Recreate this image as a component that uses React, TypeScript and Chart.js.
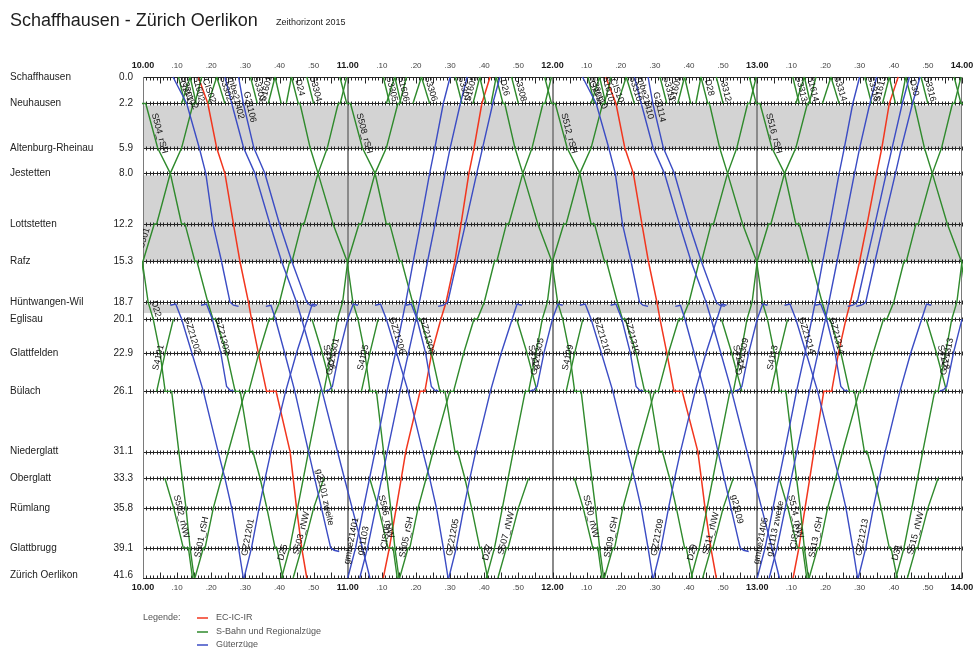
import React, { useEffect, useRef } from "react";
import { Chart, registerables } from "chart.js";
Chart.register(...registerables);

// ---------- axes / stations ----------
const stationNames = ["Schaffhausen", "Neuhausen", "Altenburg-Rheinau", "Jestetten", "Lottstetten", "Rafz", "Hüntwangen-Wil", "Eglisau", "Glattfelden", "Bülach", "Niederglatt", "Oberglatt", "Rümlang", "Glattbrugg", "Zürich Oerlikon"];
const stationKm = [0, 2.2, 5.9, 8.0, 12.2, 15.3, 18.7, 20.1, 22.9, 26.1, 31.1, 33.3, 35.8, 39.1, 41.6];
const kmLabels = ["0.0", "2.2", "5.9", "8.0", "12.2", "15.3", "18.7", "20.1", "22.9", "26.1", "31.1", "33.3", "35.8", "39.1", "41.6"];
const grayBands = [[2.2, 5.9], [8.0, 15.3], [18.7, 19.6]];
const hourLines = [60, 120, 180];
const timeTickLabels = ["10.00", ".10", ".20", ".30", ".40", ".50", "11.00", ".10", ".20", ".30", ".40", ".50", "12.00", ".10", ".20", ".30", ".40", ".50", "13.00", ".10", ".20", ".30", ".40", ".50", "14.00"];

// ---------- trains: [minutes after 10.00, km] ----------
// EC-IC-IR
const redS10 = [[16.2, 0], [19, 2.2], [21.6, 5.9], [24, 8], [26.5, 12.2], [28.4, 15.3], [30.9, 18.7], [31.8, 20.1], [33.8, 22.9], [36.2, 26.1], [39, 26.1], [43.1, 31.1], [44, 33.3], [45, 35.8], [46.5, 39.1], [48, 41.6]];
const redS12 = [[135.6, 0], [138.6, 2.2], [141.2, 5.9], [143.7, 8], [146.2, 12.2], [148.1, 15.3], [150.6, 18.7], [151.5, 20.1], [153.5, 22.9], [155.6, 26.1], [158, 26.1], [162.6, 31.1], [163.6, 33.3], [164.7, 35.8], [166.4, 39.1], [168, 41.6]];
const redN11 = [[70.4, 41.6], [72.2, 39.1], [74.2, 35.8], [75.7, 33.3], [77, 31.1], [81.2, 26.1], [82.6, 26.1], [84.6, 22.9], [87.3, 20.1], [88.8, 18.7], [91.4, 15.3], [93.2, 12.2], [95.5, 8], [97, 5.9], [99.3, 2.2], [101.7, 0]];
const redN13 = [[190.5, 41.6], [192.2, 39.1], [194, 35.8], [195.4, 33.3], [196.6, 31.1], [199.5, 26.1], [201.8, 26.1], [203.8, 22.9], [206, 20.1], [207.3, 18.7], [210, 15.3], [212.2, 12.2], [215, 8], [216.5, 5.9], [218.7, 2.2], [221.3, 0]];

// S-Bahn southbound Schaffhausen - Oerlikon
const saS10 = [[-2.3, 0], [-0.3, 2.2], [0.8, 2.2], [4.3, 5.9], [8, 8], [11.3, 12.2], [12.3, 12.2], [15.2, 15.3], [15.8, 15.3], [19, 18.7], [20.5, 20.1], [21.3, 20.1], [24.5, 22.9], [27, 26.1], [28.5, 26.1], [31.4, 31.1], [32.2, 31.1], [34.3, 33.3], [36.3, 35.8], [38.7, 39.1], [39.2, 39.1], [41, 41.6]];
const saS11 = [[57.7, 0], [59.7, 2.2], [60.8, 2.2], [64.3, 5.9], [68, 8], [71.3, 12.2], [72.3, 12.2], [75.2, 15.3], [75.8, 15.3], [79, 18.7], [80.5, 20.1], [81.3, 20.1], [84.5, 22.9], [87, 26.1], [88.5, 26.1], [91.4, 31.1], [92.2, 31.1], [94.3, 33.3], [96.3, 35.8], [98.7, 39.1], [99.2, 39.1], [101, 41.6]];
const saS12 = [[117.7, 0], [119.7, 2.2], [120.8, 2.2], [124.3, 5.9], [128, 8], [131.3, 12.2], [132.3, 12.2], [135.2, 15.3], [135.8, 15.3], [139, 18.7], [140.5, 20.1], [141.3, 20.1], [144.5, 22.9], [147, 26.1], [148.5, 26.1], [151.4, 31.1], [152.2, 31.1], [154.3, 33.3], [156.3, 35.8], [158.7, 39.1], [159.2, 39.1], [161, 41.6]];
const saS13 = [[177.7, 0], [179.7, 2.2], [180.8, 2.2], [184.3, 5.9], [188, 8], [191.3, 12.2], [192.3, 12.2], [195.2, 15.3], [195.8, 15.3], [199, 18.7], [200.5, 20.1], [201.3, 20.1], [204.5, 22.9], [207, 26.1], [208.5, 26.1], [211.4, 31.1], [212.2, 31.1], [214.3, 33.3], [216.3, 35.8], [218.7, 39.1], [219.2, 39.1], [221, 41.6]];
const saS14 = [[237.7, 0], [239.7, 2.2], [240.8, 2.2], [244.3, 5.9]];

// S-Bahn northbound Oerlikon - Schaffhausen
const snN10 = [[15.2, 41.6], [17.7, 39.1], [18.2, 39.1], [20.6, 35.8], [23, 33.3], [25, 31.1], [29.9, 26.1], [31, 26.1], [34, 22.9], [37, 20.1], [38, 20.1], [40, 18.7], [43, 15.3], [43.7, 15.3], [46.5, 12.2], [47.2, 12.2], [51.3, 8], [54, 5.9], [57.2, 2.2], [57.8, 2.2], [59.7, 0]];
const snN11 = [[75.2, 41.6], [77.7, 39.1], [78.2, 39.1], [80.6, 35.8], [83, 33.3], [85, 31.1], [89.9, 26.1], [91, 26.1], [94, 22.9], [97, 20.1], [98, 20.1], [100, 18.7], [103, 15.3], [103.7, 15.3], [106.5, 12.2], [107.2, 12.2], [111.3, 8], [114, 5.9], [117.2, 2.2], [117.8, 2.2], [119.7, 0]];
const snN12 = [[135.2, 41.6], [137.7, 39.1], [138.2, 39.1], [140.6, 35.8], [143, 33.3], [145, 31.1], [149.9, 26.1], [151, 26.1], [154, 22.9], [157, 20.1], [158, 20.1], [160, 18.7], [163, 15.3], [163.7, 15.3], [166.5, 12.2], [167.2, 12.2], [171.3, 8], [174, 5.9], [177.2, 2.2], [177.8, 2.2], [179.7, 0]];
const snN13 = [[195.2, 41.6], [197.7, 39.1], [198.2, 39.1], [200.6, 35.8], [203, 33.3], [205, 31.1], [209.9, 26.1], [211, 26.1], [214, 22.9], [217, 20.1], [218, 20.1], [220, 18.7], [223, 15.3], [223.7, 15.3], [226.5, 12.2], [227.2, 12.2], [231.3, 8], [234, 5.9], [237.2, 2.2], [237.8, 2.2], [239.7, 0]];

// D trains northbound
const dN09 = [[-7, 26.1], [-4.8, 22.9], [-3, 20.1], [-1.5, 18.7], [0, 15.3], [3.3, 12.2], [4, 12.2], [8, 8], [11.3, 5.9], [14.7, 2.2], [15.2, 2.2], [17.2, 0]];
const dN10 = [[40.6, 41.6], [43, 39.1], [45.3, 35.8], [47, 33.3], [48.5, 31.1], [52, 26.1], [53, 26.1], [55.2, 22.9], [57, 20.1], [58.5, 18.7], [60, 15.3], [63.3, 12.2], [64, 12.2], [68, 8], [71.3, 5.9], [74.7, 2.2], [75.2, 2.2], [77.2, 0]];
const dN11 = [[100.6, 41.6], [103, 39.1], [105.3, 35.8], [107, 33.3], [108.5, 31.1], [112, 26.1], [113, 26.1], [115.2, 22.9], [117, 20.1], [118.5, 18.7], [120, 15.3], [123.3, 12.2], [124, 12.2], [128, 8], [131.3, 5.9], [134.7, 2.2], [135.2, 2.2], [137.2, 0]];
const dN12 = [[160.6, 41.6], [163, 39.1], [165.3, 35.8], [167, 33.3], [168.5, 31.1], [172, 26.1], [173, 26.1], [175.2, 22.9], [177, 20.1], [178.5, 18.7], [180, 15.3], [183.3, 12.2], [184, 12.2], [188, 8], [191.3, 5.9], [194.7, 2.2], [195.2, 2.2], [197.2, 0]];
const dN13 = [[220.6, 41.6], [223, 39.1], [225.3, 35.8], [227, 33.3], [228.5, 31.1], [232, 26.1], [233, 26.1], [235.2, 22.9], [237, 20.1], [238.5, 18.7], [240, 15.3], [243.3, 12.2]];

// D trains southbound
const dS09 = [[-4.3, 12.2], [-0.2, 15.3], [1.5, 18.7], [3, 20.1], [5, 22.9], [6.5, 26.1], [8.4, 26.1], [10.5, 31.1], [11.5, 33.3], [12.6, 35.8], [13.8, 39.1], [15, 41.6]];
const dS10 = [[43.5, 0], [45.5, 2.2], [46, 2.2], [49, 5.9], [51.3, 8], [55.7, 12.2], [59.8, 15.3], [61.5, 18.7], [63, 20.1], [65, 22.9], [66.5, 26.1], [68.4, 26.1], [70.5, 31.1], [71.5, 33.3], [72.6, 35.8], [73.8, 39.1], [75, 41.6]];
const dS11 = [[103.5, 0], [105.5, 2.2], [106, 2.2], [109, 5.9], [111.3, 8], [115.7, 12.2], [119.8, 15.3], [121.5, 18.7], [123, 20.1], [125, 22.9], [126.5, 26.1], [128.4, 26.1], [130.5, 31.1], [131.5, 33.3], [132.6, 35.8], [133.8, 39.1], [135, 41.6]];
const dS12 = [[163.5, 0], [165.5, 2.2], [166, 2.2], [169, 5.9], [171.3, 8], [175.7, 12.2], [179.8, 15.3], [181.5, 18.7], [183, 20.1], [185, 22.9], [186.5, 26.1], [188.4, 26.1], [190.5, 31.1], [191.5, 33.3], [192.6, 35.8], [193.8, 39.1], [195, 41.6]];
const dS13 = [[223.5, 0], [225.5, 2.2], [226, 2.2], [229, 5.9], [231.3, 8], [235.7, 12.2], [239.8, 15.3], [241.5, 18.7]];

// S5 Niederweningen branch (Oberglatt - Oerlikon)
const nwS10 = [[6.4, 33.3], [9, 35.8], [11.8, 39.1], [13.3, 39.1], [14.5, 41.6]];
const nwS11 = [[66.4, 33.3], [69, 35.8], [71.8, 39.1], [73.3, 39.1], [74.5, 41.6]];
const nwS12 = [[126.4, 33.3], [129, 35.8], [131.8, 39.1], [133.3, 39.1], [134.5, 41.6]];
const nwS13 = [[186.4, 33.3], [189, 35.8], [191.8, 39.1], [193.3, 39.1], [194.5, 41.6]];
const nwN10 = [[44, 41.6], [46.5, 39.1], [47, 39.1], [50, 35.8], [53, 33.3]];
const nwN11 = [[104, 41.6], [106.5, 39.1], [107, 39.1], [110, 35.8], [113, 33.3]];
const nwN12 = [[164, 41.6], [166.5, 39.1], [167, 39.1], [170, 35.8], [173, 33.3]];
const nwN13 = [[224, 41.6], [226.5, 39.1], [227, 39.1], [230, 35.8], [233, 33.3]];

// S41 Bülach - Eglisau
const s41N10 = [[4, 26.1], [6.5, 22.9], [8.9, 20.1]];
const s41N11 = [[64, 26.1], [66.5, 22.9], [68.9, 20.1]];
const s41N12 = [[124, 26.1], [126.5, 22.9], [128.9, 20.1]];
const s41N13 = [[184, 26.1], [186.5, 22.9], [188.9, 20.1]];
const s41S10 = [[49.5, 20.1], [52.5, 22.9], [55.5, 26.1]];
const s41S11 = [[109.5, 20.1], [112.5, 22.9], [115.5, 26.1]];
const s41S12 = [[169.5, 20.1], [172.5, 22.9], [175.5, 26.1]];
const s41S13 = [[229.5, 20.1], [232.5, 22.9], [235.5, 26.1]];

// short runs Schaffhausen - Neuhausen: [t1, km1, t2, km2]
const top10 = [[10.4, 0, 12.3, 2.2], [11.3, 2.2, 13.8, 0], [13.8, 0, 15.6, 2.2], [19.1, 2.2, 21.6, 0], [21.6, 0, 24, 2.2], [31.5, 0, 33.5, 2.2], [36.7, 2.2, 38.7, 0], [38.7, 0, 40.5, 2.2], [42, 2.2, 43.5, 0], [48, 0, 50, 2.2]];
const top11 = [[70.4, 0, 72.3, 2.2], [71.3, 2.2, 73.8, 0], [73.8, 0, 75.6, 2.2], [79.1, 2.2, 81.6, 0], [81.6, 0, 84, 2.2], [91.5, 0, 93.5, 2.2], [96.7, 2.2, 98.7, 0], [98.7, 0, 100.5, 2.2], [102, 2.2, 103.5, 0], [108, 0, 110, 2.2]];
const top12 = [[130.4, 0, 132.3, 2.2], [131.3, 2.2, 133.8, 0], [133.8, 0, 135.6, 2.2], [139.1, 2.2, 141.6, 0], [141.6, 0, 144, 2.2], [151.5, 0, 153.5, 2.2], [156.7, 2.2, 158.7, 0], [158.7, 0, 160.5, 2.2], [162, 2.2, 163.5, 0], [168, 0, 170, 2.2]];
const top13 = [[190.4, 0, 192.3, 2.2], [191.3, 2.2, 193.8, 0], [193.8, 0, 195.6, 2.2], [199.1, 2.2, 201.6, 0], [201.6, 0, 204, 2.2], [211.5, 0, 213.5, 2.2], [216.7, 2.2, 218.7, 0], [218.7, 0, 220.5, 2.2], [222, 2.2, 223.5, 0], [228, 0, 230, 2.2]];

// Güterzüge
const bg1_10 = [[8.8, 0], [12.8, 2.2], [16.5, 5.9], [18.4, 8], [20.5, 12.2], [23, 15.3], [25.5, 18.7], [26.5, 18.95], [28, 19.05]];
const bg1_12 = [[128.8, 0], [132.8, 2.2], [136.5, 5.9], [138.4, 8], [140.5, 12.2], [143, 15.3], [145.5, 18.7], [146.5, 18.95], [148, 19.05]];
const bgx_10 = [[36, 19.05], [37.5, 18.95], [38.8, 20.1], [41.5, 22.9], [44.5, 26.1], [48.5, 31.1], [50.3, 33.3], [52.3, 35.8], [55, 39.1], [56, 39.3], [57.5, 39.4]];
const bgx_12 = [[156, 19.05], [157.5, 18.95], [158.8, 20.1], [161.5, 22.9], [164.5, 26.1], [168.5, 31.1], [170.3, 33.3], [172.3, 35.8], [175, 39.1], [176, 39.3], [177.5, 39.4]];
const bg2_10 = [[24, 0], [26, 2.2], [29.5, 5.9], [32.8, 8], [37.2, 12.2], [40.6, 15.3], [45, 18.7], [46.5, 20.1], [49.3, 22.9], [52.5, 26.1], [57, 31.1], [59, 33.3], [61.3, 35.8], [64.3, 39.1], [66.5, 41.6]];
const bg2_12 = [[144, 0], [146, 2.2], [149.5, 5.9], [152.8, 8], [157.2, 12.2], [160.6, 15.3], [165, 18.7], [166.5, 20.1], [169.3, 22.9], [172.5, 26.1], [177, 31.1], [179, 33.3], [181.3, 35.8], [184.3, 39.1], [186.5, 41.6]];
const bg3_10 = [[28, 0], [29.4, 2.2], [32.5, 5.9], [35.7, 8], [40, 12.2], [43.6, 15.3], [48, 18.7], [49, 18.95], [50.5, 19.05]];
const bg3_12 = [[148, 0], [149.4, 2.2], [152.5, 5.9], [155.7, 8], [160, 12.2], [163.6, 15.3], [168, 18.7], [169, 18.95], [170.5, 19.05]];
const bn1_11 = [[60, 41.6], [62.3, 39.1], [64.6, 35.8], [66.4, 33.3], [68, 31.1], [71.5, 26.1], [74, 22.9], [76, 20.1], [77, 18.7], [79.2, 15.3], [81.3, 12.2], [84, 8], [85.5, 5.9], [88, 2.2], [90, 0]];
const bn2_11 = [[63.5, 41.6], [65.8, 39.1], [68.2, 35.8], [70, 33.3], [71.6, 31.1], [75.3, 26.1], [77.8, 22.9], [80, 20.1], [81, 18.7], [83.4, 15.3], [85.6, 12.2], [88.5, 8], [90, 5.9], [93, 2.2], [95, 0]];
const bn3_11 = [[86.5, 19.05], [88, 18.95], [89.3, 18.7], [92, 15.3], [94.5, 12.2], [97.8, 8], [99.5, 5.9], [102.5, 2.2], [104.6, 0]];
const bn1_13 = [[180, 41.6], [182.3, 39.1], [184.6, 35.8], [186.4, 33.3], [188, 31.1], [191.5, 26.1], [194, 22.9], [196, 20.1], [197, 18.7], [199.2, 15.3], [201.3, 12.2], [204, 8], [205.5, 5.9], [208, 2.2], [210, 0]];
const bn2_13 = [[183.5, 41.6], [185.8, 39.1], [188.2, 35.8], [190, 33.3], [191.6, 31.1], [195.3, 26.1], [197.8, 22.9], [200, 20.1], [201, 18.7], [203.4, 15.3], [205.6, 12.2], [208.5, 8], [210, 5.9], [213, 2.2], [215, 0]];
const bn3_13 = [[206.5, 19.05], [208, 18.95], [209.3, 18.7], [212, 15.3], [214.5, 12.2], [217.8, 8], [219.5, 5.9], [222.5, 2.2], [224.6, 0]];
const bn4_13 = [[209, 19.05], [210.5, 18.95], [211.8, 18.7], [214.5, 15.3], [217, 12.2], [220.5, 8], [222.2, 5.9], [225.5, 2.2], [227.7, 0]];
const gzS10 = [[8, 18.95], [9.6, 18.85], [11.3, 20.1], [14.3, 22.9], [17.7, 26.1], [22, 31.1], [24, 33.3], [26, 35.8], [28, 39.1], [29.4, 41.6]];
const gzS11 = [[68, 18.95], [69.6, 18.85], [71.3, 20.1], [74.3, 22.9], [77.7, 26.1], [82, 31.1], [84, 33.3], [86, 35.8], [88, 39.1], [89.4, 41.6]];
const gzS12 = [[128, 18.95], [129.6, 18.85], [131.3, 20.1], [134.3, 22.9], [137.7, 26.1], [142, 31.1], [144, 33.3], [146, 35.8], [148, 39.1], [149.4, 41.6]];
const gzS13 = [[188, 18.95], [189.6, 18.85], [191.3, 20.1], [194.3, 22.9], [197.7, 26.1], [202, 31.1], [204, 33.3], [206, 35.8], [208, 39.1], [209.4, 41.6]];
const gz3S10 = [[17, 18.95], [18.6, 18.85], [20.3, 20.1], [22.8, 22.9], [24.5, 25.7], [25.5, 26.0], [26.5, 26.05]];
const gz3S11 = [[77, 18.95], [78.6, 18.85], [80.3, 20.1], [82.8, 22.9], [84.5, 25.7], [85.5, 26.0], [86.5, 26.05]];
const gz3S12 = [[137, 18.95], [138.6, 18.85], [140.3, 20.1], [142.8, 22.9], [144.5, 25.7], [145.5, 26.0], [146.5, 26.05]];
const gz3S13 = [[197, 18.95], [198.6, 18.85], [200.3, 20.1], [202.8, 22.9], [204.5, 25.7], [205.5, 26.0], [206.5, 26.05]];
const gzN10 = [[29.6, 41.6], [31.8, 39.1], [34, 35.8], [35.8, 33.3], [37.5, 31.1], [41.8, 26.1], [45, 22.9], [48.2, 20.1], [49.6, 18.85], [51, 18.95]];
const gzN11 = [[89.6, 41.6], [91.8, 39.1], [94, 35.8], [95.8, 33.3], [97.5, 31.1], [101.8, 26.1], [105, 22.9], [108.2, 20.1], [109.6, 18.85], [111, 18.95]];
const gzN12 = [[149.6, 41.6], [151.8, 39.1], [154, 35.8], [155.8, 33.3], [157.5, 31.1], [161.8, 26.1], [165, 22.9], [168.2, 20.1], [169.6, 18.85], [171, 18.95]];
const gzN13 = [[209.6, 41.6], [211.8, 39.1], [214, 35.8], [215.8, 33.3], [217.5, 31.1], [221.8, 26.1], [225, 22.9], [228.2, 20.1], [229.6, 18.85], [231, 18.95]];
const gz3N10 = [[53.5, 26.05], [54.5, 26.0], [55.5, 25.7], [57.5, 22.9], [60, 20.1], [61.6, 18.85], [63, 18.95]];
const gz3N11 = [[113.5, 26.05], [114.5, 26.0], [115.5, 25.7], [117.5, 22.9], [120, 20.1], [121.6, 18.85], [123, 18.95]];
const gz3N12 = [[173.5, 26.05], [174.5, 26.0], [175.5, 25.7], [177.5, 22.9], [180, 20.1], [181.6, 18.85], [183, 18.95]];
const gz3N13 = [[233.5, 26.05], [234.5, 26.0], [235.5, 25.7], [237.5, 22.9], [240, 20.1], [241.6, 18.85]];

const redTrains = [redS10, redS12, redN11, redN13];
const sTrains = [saS10, saS11, saS12, saS13, saS14, snN10, snN11, snN12, snN13, dN09, dN10, dN11, dN12, dN13, dS09, dS10, dS11, dS12, dS13, nwS10, nwS11, nwS12, nwS13, nwN10, nwN11, nwN12, nwN13, s41N10, s41N11, s41N12, s41N13, s41S10, s41S11, s41S12, s41S13];
const sShortRuns = [...top10, ...top11, ...top12, ...top13];
const gTrains = [bg1_10, bg1_12, bgx_10, bgx_12, bg2_10, bg2_12, bg3_10, bg3_12, bn1_11, bn2_11, bn3_11, bn1_13, bn2_13, bn3_13, bn4_13, gzS10, gzS11, gzS12, gzS13, gz3S10, gz3S11, gz3S12, gz3S13, gzN10, gzN11, gzN12, gzN13, gz3N10, gz3N11, gz3N12, gz3N13];

// train labels: [text, train, km where label is centred]
const trainLabels: [string, number[][] | number[], number][] = [
  ["S3301", top10[0], 1.1], ["G21102", bg1_10, 1.7], ["S1602", top10[2], 1.1], ["CIS02", redS10, 1.3], ["S3302", top10[4], 1.1], ["Gmbe21402", bg2_10, 1.6], ["S3303", top10[5], 1.1], ["G21106", bg3_10, 2.6], ["S1601", top10[6], 1.1], ["D24", dS10, 1.0], ["S3304", top10[9], 1.1], ["S504_rSH", saS10, 4.8],
  ["S3305", top11[0], 1.1], ["S1606", top11[2], 1.1], ["S3306", top11[4], 1.1], ["S3307", top11[5], 1.1], ["S1605", top11[6], 1.1], ["D26", dS11, 1.0], ["S3308", top11[9], 1.1], ["S508_rSH", saS11, 4.8],
  ["S3309", top12[0], 1.1], ["G21110", bg1_12, 1.7], ["S1610", top12[2], 1.1], ["CIS10", redS12, 1.3], ["S3310", top12[4], 1.1], ["Gmbe21410", bg2_12, 1.6], ["S3311", top12[5], 1.1], ["G21114", bg3_12, 2.6], ["S1609", top12[6], 1.1], ["D28", dS12, 1.0], ["S3312", top12[9], 1.1], ["S512_rSH", saS12, 4.8],
  ["S3313", top13[0], 1.1], ["S1614", top13[2], 1.1], ["S3314", top13[4], 1.1], ["S3315", top13[5], 1.1], ["S1613", top13[6], 1.1], ["D30", dS13, 1.0], ["S3316", top13[9], 1.1], ["S516_rSH", saS13, 4.8],
  ["D22", dS09, 19.4], ["S501", dN09, 13.5],
  ["S4101", s41N10, 23.4], ["S4105", s41N11, 23.4], ["S4109", s41N12, 23.4], ["S4113", s41N13, 23.4],
  ["S4106", s41S10, 23.4], ["S4110", s41S11, 23.4], ["S4114", s41S12, 23.4], ["S4118", s41S13, 23.4],
  ["GZ21202", gzS10, 21.6], ["GZ21206", gzS11, 21.6], ["GZ21210", gzS12, 21.6], ["GZ21214", gzS13, 21.6],
  ["GZ21302", gz3S10, 21.6], ["GZ21306", gz3S11, 21.6], ["GZ21310", gz3S12, 21.6], ["GZ21314", gz3S13, 21.6],
  ["GZ21301", gz3N10, 23.3], ["GZ21305", gz3N11, 23.3], ["GZ21309", gz3N12, 23.3], ["GZ21313", gz3N13, 23.3],
  ["S502_rNW", nwS10, 36.6], ["S506_rNW", nwS11, 36.6], ["S510_rNW", nwS12, 36.6], ["S514_rNW", nwS13, 36.6],
  ["S501_rSH", snN10, 38.3], ["S505_rSH", snN11, 38.3], ["S509_rSH", snN12, 38.3], ["S513_rSH", snN13, 38.3],
  ["GZ21201", gzN10, 38.3], ["GZ21205", gzN11, 38.3], ["GZ21209", gzN12, 38.3], ["GZ21213", gzN13, 38.3],
  ["D25", dN10, 39.6], ["D27", dN11, 39.6], ["D29", dN12, 39.6], ["D31", dN13, 39.6],
  ["S503_rNW", nwN10, 38.0], ["S507_rNW", nwN11, 38.0], ["S511_rNW", nwN12, 38.0], ["S515_rNW", nwN13, 38.0],
  ["gmbe21401", bn1_11, 38.6], ["g21103", bn2_11, 38.6], ["gmbe21405", bn1_13, 38.6], ["g21113 zweite", bn2_13, 37.6],
  ["CIS05", redN11, 38.2], ["CIS13", redN13, 38.2], ["g21101 zweite", bgx_10, 35.0], ["g21109", bgx_12, 36.0],
];

const COLOR_IC = "#f2361e";
const COLOR_S = "#2f8a2c";
const COLOR_G = "#3b4cc4";
const FONT = "'Liberation Sans', Arial, Helvetica, sans-serif";

function toPath(p: number[][] | number[]): number[][] {
  if (typeof (p as any)[0] === "number") {
    const s = p as number[];
    return [[s[0], s[1]], [s[2], s[3]]];
  }
  return p as number[][];
}

const backgroundPlugin = {
  id: "bfpBackground",
  beforeDatasetsDraw(chart: any) {
    const { ctx, chartArea } = chart;
    const { left, right, top, bottom } = chartArea;
    const x = chart.scales.x;
    const y = chart.scales.y;
    ctx.save();
    ctx.fillStyle = "#ffffff";
    ctx.fillRect(left, top, right - left, bottom - top);
    ctx.fillStyle = "#d3d3d3";
    for (const [a, b] of grayBands) {
      const ya = y.getPixelForValue(a);
      const yb = y.getPixelForValue(b);
      ctx.fillRect(left, ya + 2, right - left, yb - ya - 2);
    }
    // hour lines
    ctx.strokeStyle = "#8a8a8a";
    ctx.lineWidth = 2;
    for (const h of hourLines) {
      const px = Math.round(x.getPixelForValue(h));
      ctx.beginPath();
      ctx.moveTo(px, top);
      ctx.lineTo(px, bottom);
      ctx.stroke();
    }
    // station rows with minute ticks
    ctx.lineWidth = 1;
    ctx.strokeStyle = "#262626";
    stationKm.forEach((km, i) => {
      const py = Math.round(y.getPixelForValue(km)) + 0.5;
      ctx.beginPath();
      ctx.moveTo(left, py);
      ctx.lineTo(right, py);
      ctx.stroke();
      ctx.beginPath();
      for (let m = 0; m <= 240; m++) {
        const px = Math.round(x.getPixelForValue(m)) + 0.5;
        if (i === 0) {
          const len = m % 5 === 0 ? 6 : 3;
          ctx.moveTo(px, py);
          ctx.lineTo(px, py + len);
        } else if (i === stationKm.length - 1) {
          const len = m % 5 === 0 ? 6 : 3;
          ctx.moveTo(px, py);
          ctx.lineTo(px, py - len);
        } else {
          ctx.moveTo(px, py - 2);
          ctx.lineTo(px, py + 2);
        }
      }
      ctx.stroke();
    });
    // frame sides
    ctx.strokeStyle = "#7a7a7a";
    ctx.beginPath();
    ctx.moveTo(left + 0.5, top);
    ctx.lineTo(left + 0.5, bottom);
    ctx.moveTo(right - 0.5, top);
    ctx.lineTo(right - 0.5, bottom);
    ctx.stroke();
    ctx.restore();
  },
};

const overlayPlugin = {
  id: "bfpOverlay",
  afterDatasetsDraw(chart: any) {
    const { ctx, chartArea } = chart;
    const { left, right, top, bottom } = chartArea;
    const x = chart.scales.x;
    const y = chart.scales.y;

    // train labels
    ctx.save();
    ctx.beginPath();
    ctx.rect(left, top, right - left, bottom - top);
    ctx.clip();
    ctx.fillStyle = "#111111";
    ctx.font = `9px ${FONT}`;
    ctx.textAlign = "center";
    ctx.textBaseline = "bottom";
    for (const [text, p, km] of trainLabels) {
      const path = toPath(p);
      for (let i = 0; i < path.length - 1; i++) {
        const [t1, k1] = path[i];
        const [t2, k2] = path[i + 1];
        if (k1 === k2) continue;
        if ((k1 - km) * (k2 - km) <= 0) {
          const t = t1 + ((km - k1) / (k2 - k1)) * (t2 - t1);
          const px = x.getPixelForValue(t);
          const py = y.getPixelForValue(km);
          const ang = Math.atan2(y.getPixelForValue(k2) - y.getPixelForValue(k1), x.getPixelForValue(t2) - x.getPixelForValue(t1));
          ctx.save();
          ctx.translate(px, py);
          ctx.rotate(ang);
          ctx.fillText(text, 0, -1);
          ctx.restore();
          break;
        }
      }
    }
    ctx.restore();

    ctx.save();
    // time axis labels top and bottom
    ctx.textAlign = "center";
    ctx.textBaseline = "middle";
    timeTickLabels.forEach((lab, i) => {
      const px = x.getPixelForValue(i * 10);
      const isHour = !lab.startsWith(".");
      ctx.font = isHour ? `bold 9px ${FONT}` : `8px ${FONT}`;
      ctx.fillStyle = isHour ? "#1a1a1a" : "#444444";
      ctx.fillText(lab, px, top - 11);
      ctx.fillText(lab, px, bottom + 10);
    });
    // station names & km
    ctx.font = `10px ${FONT}`;
    ctx.fillStyle = "#222222";
    stationKm.forEach((km, i) => {
      const py = y.getPixelForValue(km);
      const yy = i === stationKm.length - 1 ? py - 3 : py;
      ctx.textAlign = "left";
      ctx.fillText(stationNames[i], 10, yy);
      ctx.textAlign = "right";
      ctx.fillText(kmLabels[i], 133, yy);
    });
    // title
    ctx.textAlign = "left";
    ctx.textBaseline = "alphabetic";
    ctx.fillStyle = "#1e1e1e";
    ctx.font = `18px ${FONT}`;
    ctx.fillText("Schaffhausen - Zürich Oerlikon", 10, 26);
    ctx.font = `9px ${FONT}`;
    ctx.fillText("Zeithorizont 2015", 276, 25);
    // legend
    ctx.textBaseline = "middle";
    ctx.fillStyle = "#555555";
    ctx.font = `9px ${FONT}`;
    ctx.fillText("Legende:", 143, 618);
    const legend: [string, string, number][] = [["EC-IC-IR", COLOR_IC, 618], ["S-Bahn und Regionalzüge", COLOR_S, 632], ["Güterzüge", COLOR_G, 645]];
    for (const [txt, col, ly] of legend) {
      ctx.strokeStyle = col;
      ctx.lineWidth = 1.5;
      ctx.beginPath();
      ctx.moveTo(197, ly);
      ctx.lineTo(208, ly);
      ctx.stroke();
      ctx.fillStyle = "#555555";
      ctx.fillText(txt, 216, ly);
    }
    ctx.restore();
  },
};

function makeDataset(path: number[][], color: string, width: number) {
  return {
    data: path.map(([t, km]) => ({ x: t, y: km })),
    borderColor: color,
    backgroundColor: color,
    borderWidth: width,
    pointRadius: 0,
    pointHoverRadius: 0,
    tension: 0,
    fill: false,
    clip: 1,
  };
}

export default function App() {
  const canvasRef = useRef<HTMLCanvasElement | null>(null);
  useEffect(() => {
    if (!canvasRef.current) return;
    const datasets: any[] = [];
    for (const p of gTrains) datasets.push(makeDataset(p, COLOR_G, 1.4));
    for (const p of sTrains) datasets.push(makeDataset(p, COLOR_S, 1.4));
    for (const s of sShortRuns) datasets.push(makeDataset(toPath(s), COLOR_S, 1.4));
    for (const p of redTrains) datasets.push(makeDataset(p, COLOR_IC, 1.5));
    const chart = new Chart(canvasRef.current, {
      type: "line",
      data: { datasets },
      options: {
        animation: false,
        responsive: false,
        devicePixelRatio: 1,
        events: [],
        layout: { padding: { left: 143, right: 11, top: 77, bottom: 70 } },
        scales: {
          x: { type: "linear", min: 0, max: 240, display: false },
          y: { type: "linear", min: 0, max: 41.6, reverse: true, display: false },
        },
        plugins: { legend: { display: false }, tooltip: { enabled: false }, title: { display: false } },
      },
      plugins: [backgroundPlugin, overlayPlugin],
    } as any);
    return () => chart.destroy();
  }, []);
  return (
    <div style={{ position: "fixed", left: 0, top: 0, width: 973, height: 648, background: "#ffffff" }}>
      <canvas ref={canvasRef} width={973} height={648} style={{ display: "block" }} />
    </div>
  );
}
